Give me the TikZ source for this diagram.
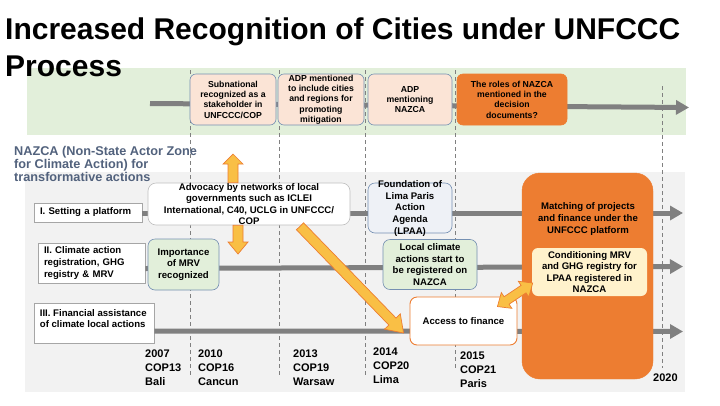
\documentclass[tikz,border=0pt]{standalone}
\usepackage{fontspec}
\setmainfont{Liberation Sans}
\usetikzlibrary{arrows.meta,calc}
\definecolor{bandgreen}{HTML}{E2EFDA}
\definecolor{bandgray}{HTML}{F2F2F2}
\definecolor{lineg}{HTML}{808080}
\definecolor{boxblue}{HTML}{7590B2}
\definecolor{pinkf}{HTML}{FBE4D6}
\definecolor{orangef}{HTML}{ED7D31}
\definecolor{greenf}{HTML}{E2EFDA}
\definecolor{yellf}{HTML}{FFF2CC}
\definecolor{arrowy}{HTML}{F9BF45}
\definecolor{slate}{HTML}{52627D}
\definecolor{foundf}{HTML}{EEF1F6}
\tikzset{
  topbox/.style={draw=boxblue, line width=0.6pt, rounded corners=6pt, fill=pinkf, inner sep=0pt, align=center, font=\bfseries\fontsize{8.7}{10.3}\selectfont},
  midbox/.style={draw=boxblue, line width=0.6pt, rounded corners=7pt, inner sep=0pt, align=center, font=\bfseries\fontsize{9.6}{11.6}\selectfont},
  midtext/.style={inner sep=0pt, align=center, font=\bfseries\fontsize{9.6}{11.6}\selectfont},
  lab/.style={draw=black!35, fill=white, line width=0.6pt, inner xsep=6pt, inner ysep=0pt, align=left, font=\bfseries\fontsize{9.6}{11.6}\selectfont},
  timeline/.style={draw=lineg, line width=5pt, -{Triangle[length=13pt,width=14pt]}},
  copline/.style={draw=lineg, line width=0.7pt, dash pattern=on 4pt off 3pt},
  year/.style={font=\bfseries\fontsize{11}{14}\selectfont, align=left, anchor=north west, inner sep=0pt},
  blk/.style={fill=arrowy, draw=orangef, line width=0.7pt, line join=miter}
}
% #1 start, #2 end, #3 half shaft, #4 half head, #5 head length
\newcommand{\myblockarrow}[5]{%
  \filldraw[blk] let \p1=(#1), \p2=(#2), \n1={atan2(\y2-\y1,\x2-\x1)}, \n2={veclen(\x2-\x1,\y2-\y1)} in
  [shift={(\p1)}, rotate=\n1] (0pt,-#3) -- ({\n2*1pt-#5},-#3) -- ({\n2*1pt-#5},-#4) -- ({\n2*1pt},0pt)
  -- ({\n2*1pt-#5},#4) -- ({\n2*1pt-#5},#3) -- (0pt,#3) -- cycle;}
\newcommand{\mydoublearrow}[5]{%
  \filldraw[blk] let \p1=(#1), \p2=(#2), \n1={atan2(\y2-\y1,\x2-\x1)}, \n2={veclen(\x2-\x1,\y2-\y1)} in
  [shift={(\p1)}, rotate=\n1] (0pt,0pt) -- (#5,-#4) -- (#5,-#3) -- ({\n2*1pt-#5},-#3) -- ({\n2*1pt-#5},-#4) -- ({\n2*1pt},0pt)
  -- ({\n2*1pt-#5},#4) -- ({\n2*1pt-#5},#3) -- (#5,#3) -- (#5,#4) -- cycle;}
\begin{document}
\begin{tikzpicture}[x=1pt,y=-1pt]
\useasboundingbox[fill=white] (0,0) rectangle (720,405);
% bands
\fill[bandgreen] (27,68) rectangle (686,135);
\fill[bandgray] (25,172) rectangle (685,392);
% title
\node[anchor=north west, inner sep=0pt, align=left, font=\bfseries\fontsize{30}{37}\selectfont] (title) at (5,18)
  {Increased Recognition of Cities under UNFCCC\\Process};
% COP dashed lines
\draw[copline] (190,70) coordinate (d1a) -- (190,377) coordinate (d1b);
\draw[copline] (279,70) coordinate (d2a) -- (279,377) coordinate (d2b);
\draw[copline] (365,70) coordinate (d3a) -- (365,376) coordinate (d3b);
\draw[copline] (455,70) coordinate (d4a) -- (455,370) coordinate (d4b);
\draw[copline] (662,86) coordinate (d5a) -- (662,368) coordinate (d5b);
% top timeline
\coordinate (t0s) at (150,103.5);
\coordinate (t0e) at (689,107.5);
\draw[timeline] (t0s) -- (t0e);
% row labels
\node[lab, minimum width=108pt, minimum height=19pt, text width=96pt] (l1) at (88,212.5) {I. Setting a platform};
\node[lab, minimum width=107pt, minimum height=40pt, text width=95pt] (l2) at (91.5,263) {II. Climate action\\registration, GHG\\registry \& MRV};
\node[lab, minimum width=120pt, minimum height=40pt] (l3) at (94,323) {};
\node[anchor=north west, inner sep=0pt, align=left, font=\bfseries\fontsize{9.6}{11.6}\selectfont] (l3t) at ($(l3.north west)+(6,6.5)$)
  {III. Financial assistance\\of climate local actions};
% row timelines
\coordinate (r1e) at (683,213);
\coordinate (r2e) at (683,266.5);
\coordinate (r3e) at (683,331.5);
\draw[timeline] ($(l1.east)+(0,0.5)$) -- (r1e);
\draw[timeline] ($(l2.east)+(0,5.5)$) -- (r2e);
\draw[timeline] ($(l3.east)+(0,8)$) -- (r3e);
% heading
\node[anchor=north west, inner sep=0pt, align=left, text=slate, font=\bfseries\fontsize{12.7}{13.2}\selectfont] (nazca) at (14,146)
  {NAZCA (Non-State Actor Zone\\for Climate Action) for\\transformative actions};
% top boxes
\node[topbox, minimum width=86pt, minimum height=51pt] (sub) at (233,99.5) {Subnational\\recognized as a\\stakeholder in\\UNFCCC/COP};
\node[topbox, minimum width=86pt, minimum height=51pt] (adp1) at (321,99.5) {ADP mentioned\\to include cities\\and regions for\\promoting\\mitigation};
\node[topbox, minimum width=84pt, minimum height=51pt] (adp2) at (410,99.5) {ADP\\mentioning\\NAZCA};
\node[topbox, fill=orangef, draw=orangef, minimum width=110pt, minimum height=51pt] (roles) at (512,99.5) {The roles of NAZCA\\mentioned in the\\decision\\documents?};
% middle boxes
\node[midbox, draw=black!25, fill=white, rounded corners=8pt, minimum width=202pt, minimum height=42pt] (adv) at (249,204)
  {Advocacy by networks of local\\governments such as ICLEI\\International, C40, UCLG in UNFCCC/\\COP};
\node[midbox, fill=greenf, minimum width=71pt, minimum height=51pt] (imp) at (183.5,264.5) {Importance\\of MRV\\recognized};
\node[midbox, fill=foundf, minimum width=84pt, minimum height=50pt] (found) at (410,208) {};
\node[midtext] (foundt) at ($(found.center)+(0,0.5)$) {Foundation of\\Lima Paris\\Action\\Agenda\\(LPAA)};
\node[midbox, fill=greenf, minimum width=94pt, minimum height=50pt] (local) at (430,264.5) {Local climate\\actions start to\\be registered on\\NAZCA};
\node[midbox, fill=white, draw=orangef, line width=0.9pt, minimum width=107pt, minimum height=48pt] (access) at (463.5,321) {Access to finance};
\node[fill=orangef, draw=orangef, rounded corners=18pt, minimum width=131pt, minimum height=206pt, inner sep=0pt] (big) at (587.5,276) {};
\node[midtext] (match) at (588,219) {Matching of projects\\and finance under the\\UNFCCC platform};
\node[midbox, draw=none, fill=yellf, rounded corners=6pt, minimum width=115pt, minimum height=48pt] (cond) at (589.5,272) {Conditioning MRV\\and GHG registry for\\LPAA registered in\\NAZCA};
% block arrows
\coordinate (upS) at ($(adv.north)+(-16,0)$);
\coordinate (upT) at (233,154);
\myblockarrow{upS}{upT}{5pt}{10pt}{10pt}
\coordinate (dnS) at ($(adv.south)+(-11,0)$);
\coordinate (dnT) at (238,254);
\myblockarrow{dnS}{dnT}{5pt}{10pt}{12pt}
\coordinate (dgS) at ($(adv.south)+(51,1)$);
\coordinate (dgT) at ($(access.west)+(-6,12)$);
\myblockarrow{dgS}{dgT}{5pt}{11pt}{16pt}
\coordinate (dbS) at ($(access.north east)+(-20,10)$);
\coordinate (dbT) at ($(cond.west)+(1,11)$);
\mydoublearrow{dbS}{dbT}{4.5pt}{9.5pt}{11pt}
% years
\node[year] (y07) at (145,350) {2007\\COP13\\Bali};
\node[year] (y10) at (198,350) {2010\\COP16\\Cancun};
\node[year] (y13) at (293,350) {2013\\COP19\\Warsaw};
\node[year] (y14) at (373,348) {2014\\COP20\\Lima};
\node[year] (y15) at (460,352) {2015\\COP21\\Paris};
\node[year] (y20) at (653,374) {2020};
\end{tikzpicture}
\end{document}
